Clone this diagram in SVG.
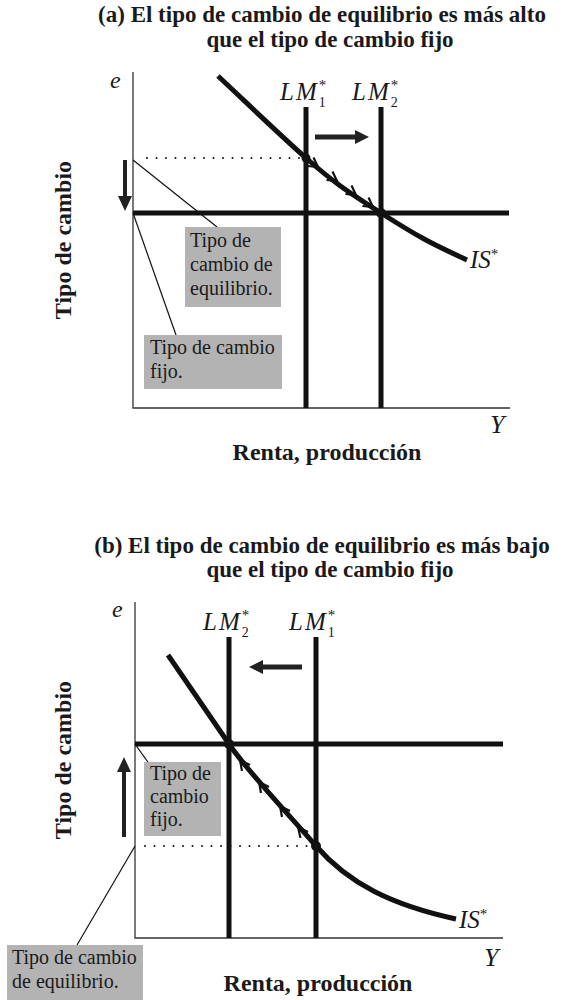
<svg xmlns="http://www.w3.org/2000/svg" width="564" height="1000" viewBox="0 0 564 1000">
<style>
.title{font-family:"Liberation Serif","Times New Roman",serif;font-weight:bold;font-size:23px;fill:#1a1a1a;text-anchor:middle}
.axislbl{font-family:"Liberation Serif","Times New Roman",serif;font-weight:bold;font-size:24px;fill:#1a1a1a}
.box{fill:#b3b3b3}
.boxt{font-family:"Liberation Serif","Times New Roman",serif;font-size:20px;fill:#1a1a1a}
.math{font-family:"Liberation Serif","Times New Roman",serif;font-style:italic;fill:#1a1a1a}
.lm{font-family:"Liberation Serif","Times New Roman",serif;font-style:italic;font-size:25px;letter-spacing:2px;fill:#1a1a1a}
.st{font-style:normal;letter-spacing:0;font-size:15px}
.sb{font-style:normal;letter-spacing:0;font-size:14px}
.axis{stroke:#333;stroke-width:1.3;fill:none}
.thick{stroke:#111;stroke-width:5;fill:none}
.curve{stroke:#111;stroke-width:5;fill:none;stroke-linecap:butt}
.thin{stroke:#111;stroke-width:1.2;fill:none}
.dots{stroke:#111;stroke-width:2;stroke-linecap:round;stroke-dasharray:0 9.5;fill:none}
.chev{stroke:#111;stroke-width:2.2;fill:none;stroke-linejoin:miter}
.arr{fill:#222}
</style>

<!-- Panel A -->
<g id="title-a">
<text class="title" x="322" y="22">(a) El tipo de cambio de equilibrio es más alto</text>
<text class="title" x="330" y="47">que el tipo de cambio fijo</text>
</g>
<g id="axes-a">
<path class="axis" d="M133,72 V408 H510"/>
<text class="math" x="110" y="88" font-size="24">e</text>
<text class="math" x="490" y="433" font-size="26">Y</text>
<text class="axislbl" x="327" y="460" text-anchor="middle">Renta, producción</text>
<text class="axislbl" transform="translate(71,240) rotate(-90)" text-anchor="middle">Tipo de cambio</text>
</g>
<g id="connectors-a">
<line class="thin" x1="133" y1="160" x2="217" y2="227"/>
<line class="thin" x1="133" y1="213" x2="176" y2="335"/>
<line class="dots" x1="147" y1="158" x2="300" y2="158"/>
</g>
<g id="fixed-line-a"><line class="thick" x1="133" y1="213" x2="509" y2="213"/></g>
<g id="lm1-a">
<line class="thick" x1="306" y1="107" x2="306" y2="408"/>
<text class="lm" x="280" y="100">LM<tspan class="st" dy="-10">*</tspan><tspan class="sb" dx="-7.5" dy="16.5">1</tspan></text>
</g>
<g id="lm2-a">
<line class="thick" x1="381" y1="107" x2="381" y2="408"/>
<text class="lm" x="352" y="100">LM<tspan class="st" dy="-10">*</tspan><tspan class="sb" dx="-7.5" dy="16.5">2</tspan></text>
</g>
<g id="is-a">
<path class="curve" d="M218,76 C250,106 280,135 306,158 S345,190 381,213 S430,243 467,260"/>
<text class="math" x="470" y="268" font-size="25">IS<tspan class="st" font-size="16" dy="-9">*</tspan></text>
<g class="chev">
<polyline points="307.5,166 318,167 313.5,157.5"/>
<polyline points="326.5,180 337,181 332.5,171.5"/>
<polyline points="345.5,194 356,195 351.5,185.5"/>
<polyline points="362.5,206 373,207 368.5,197.5"/>
</g>
<circle cx="306" cy="158" r="4.5" fill="#111"/>
<circle cx="381" cy="213" r="5" fill="#111"/>
</g>
<g id="shift-arrow-a">
<rect class="arr" x="315" y="134.5" width="42" height="5"/>
<polygon class="arr" points="355,130 369,137 355,144"/>
</g>
<g id="down-arrow-a">
<rect class="arr" x="123" y="160" width="4" height="37"/>
<polygon class="arr" points="118,196 132,196 125,211"/>
</g>
<g id="label-eq-a">
<rect class="box" x="185" y="227" width="96" height="80"/>
<text class="boxt" x="190" y="247">Tipo de</text>
<text class="boxt" x="190" y="271">cambio de</text>
<text class="boxt" x="190" y="295">equilibrio.</text>
</g>
<g id="label-fix-a">
<rect class="box" x="144" y="335" width="138" height="54"/>
<text class="boxt" x="150" y="354">Tipo de cambio</text>
<text class="boxt" x="150" y="378">fijo.</text>
</g>

<!-- Panel B -->
<g id="title-b">
<text class="title" x="322" y="553">(b) El tipo de cambio de equilibrio es más bajo</text>
<text class="title" x="330" y="577">que el tipo de cambio fijo</text>
</g>
<g id="axes-b">
<path class="axis" d="M135,602 V938 H503"/>
<text class="math" x="112" y="617" font-size="24">e</text>
<text class="math" x="484" y="966" font-size="26">Y</text>
<text class="axislbl" x="318" y="991" text-anchor="middle">Renta, producción</text>
<text class="axislbl" transform="translate(71,760) rotate(-90)" text-anchor="middle">Tipo de cambio</text>
</g>
<g id="connectors-b">
<line class="thin" x1="135" y1="744" x2="150" y2="765"/>
<line class="thin" x1="135" y1="846" x2="77" y2="945"/>
<line class="dots" x1="145" y1="846" x2="310" y2="846"/>
</g>
<g id="fixed-line-b"><line class="thick" x1="135" y1="744" x2="503" y2="744"/></g>
<g id="lm2-b">
<line class="thick" x1="229" y1="637" x2="229" y2="938"/>
<text class="lm" x="203" y="630">LM<tspan class="st" dy="-10">*</tspan><tspan class="sb" dx="-7.5" dy="16.5">2</tspan></text>
</g>
<g id="lm1-b">
<line class="thick" x1="316" y1="637" x2="316" y2="938"/>
<text class="lm" x="289" y="630">LM<tspan class="st" dy="-10">*</tspan><tspan class="sb" dx="-7.5" dy="16.5">1</tspan></text>
</g>
<g id="is-b">
<path class="curve" d="M168,655 C190,687 210,716 229,744 S283,808 316,846 S392,905 456,919"/>
<text class="math" x="459" y="928" font-size="25">IS<tspan class="st" font-size="16" dy="-9">*</tspan></text>
<g class="chev">
<polyline points="250,765 240,760 242,771"/>
<polyline points="269,787 259,782 261,793"/>
<polyline points="290,811 280,806 282,817"/>
<polyline points="308,832 298,827 300.5,838"/>
</g>
<circle cx="229" cy="744" r="5" fill="#111"/>
<circle cx="316" cy="846" r="5" fill="#111"/>
</g>
<g id="shift-arrow-b">
<rect class="arr" x="261" y="664.5" width="41" height="5"/>
<polygon class="arr" points="263,660 249,667 263,674"/>
</g>
<g id="up-arrow-b">
<rect class="arr" x="122" y="771" width="4" height="66"/>
<polygon class="arr" points="117,772 131,772 124,757"/>
</g>
<g id="label-fix-b">
<rect class="box" x="144" y="762" width="77" height="74"/>
<text class="boxt" x="150" y="780">Tipo de</text>
<text class="boxt" x="150" y="803">cambio</text>
<text class="boxt" x="150" y="826">fijo.</text>
</g>
<g id="label-eq-b">
<rect class="box" x="7" y="945" width="136" height="55"/>
<text class="boxt" x="12" y="964">Tipo de cambio</text>
<text class="boxt" x="12" y="988">de equilibrio.</text>
</g>
</svg>
